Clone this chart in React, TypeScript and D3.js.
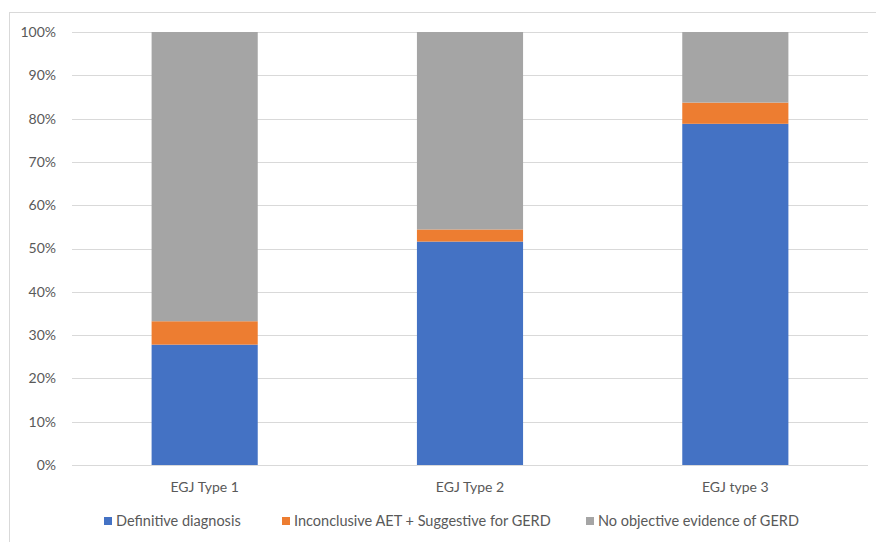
import React from "react";
import * as d3 from "d3";

const categories = ["EGJ Type 1", "EGJ Type 2", "EGJ type 3"];
const seriesNames = [
  "Definitive diagnosis",
  "Inconclusive AET + Suggestive for GERD",
  "No objective evidence of GERD",
];
const definitive = [27.8, 51.6, 78.8];
const inconclusive = [5.4, 2.8, 4.9];
const noEvidence = [66.8, 45.6, 16.3];
const yTicks = [0, 10, 20, 30, 40, 50, 60, 70, 80, 90, 100];
const colors = ["#4472C4", "#ED7D31", "#A5A5A5"];

const W = 876;
const H = 542;
const plot = { left: 72, right: 868, top: 32, bottom: 465 };
const font = "Lato, 'Open Sans', sans-serif";

export default function App() {
  const rows = categories.map((c, i) => ({
    cat: c,
    s0: definitive[i],
    s1: inconclusive[i],
    s2: noEvidence[i],
  }));
  const stack = d3.stack<any>().keys(["s0", "s1", "s2"]);
  const layers = stack(rows);

  const x = d3
    .scaleBand<string>()
    .domain(categories)
    .range([plot.left, plot.right])
    .paddingInner(0.6)
    .paddingOuter(0.3);
  const y = d3.scaleLinear().domain([0, 100]).range([plot.bottom, plot.top]);

  const legendX = [104, 282, 586];

  return (
    <svg
      width={W}
      height={H}
      style={{ position: "absolute", left: 0, top: 0, background: "#fff" }}
      fontFamily={font}
    >
      <rect x={9.5} y={12.5} width={W} height={H} fill="#fff" stroke="#D9D9D9" />
      {yTicks.map((t) => (
        <g key={t}>
          <line
            x1={plot.left}
            x2={plot.right}
            y1={Math.round(y(t)) + 0.5}
            y2={Math.round(y(t)) + 0.5}
            stroke="#D9D9D9"
          />
          <text
            x={56}
            y={y(t)}
            dy="0.35em"
            textAnchor="end"
            fontSize={14}
            fill="#595959"
          >
            {t}%
          </text>
        </g>
      ))}
      {layers.map((layer, li) =>
        layer.map((d, i) => (
          <rect
            key={li + "-" + i}
            x={x(categories[i])!}
            width={x.bandwidth()}
            y={y(d[1])}
            height={y(d[0]) - y(d[1])}
            fill={colors[li]}
          />
        ))
      )}
      {categories.map((c) => (
        <text
          key={c}
          x={x(c)! + x.bandwidth() / 2}
          y={487}
          dy="0.35em"
          textAnchor="middle"
          fontSize={14}
          fill="#595959"
        >
          {c}
        </text>
      ))}
      {seriesNames.map((s, i) => (
        <g key={s}>
          <rect x={legendX[i]} y={517} width={8} height={8} fill={colors[i]} />
          <text x={legendX[i] + 12} y={521} dy="0.35em" fontSize={14.5} fill="#595959">
            {s}
          </text>
        </g>
      ))}
    </svg>
  );
}
